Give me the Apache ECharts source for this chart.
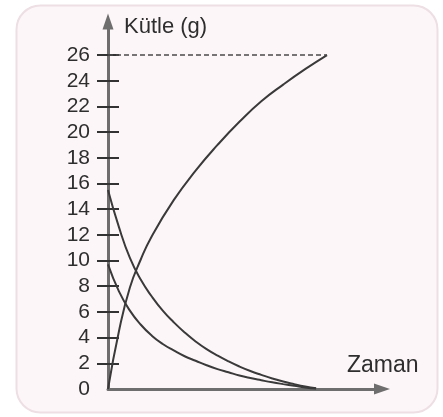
<!DOCTYPE html>
<html>
<head>
<meta charset="utf-8">
<script src="https://cdn.jsdelivr.net/npm/echarts@6/dist/echarts.min.js"></script>
<style>
  html, body { margin: 0; padding: 0; background: #ffffff; }
  #chart { width: 443px; height: 417px; }
</style>
</head>
<body>
<div id="chart"></div>
<script>
// Mass (g) of three substances over time
const timeRise = [0, 0.5, 1, 1.5, 2, 3, 4, 5, 6, 7, 8, 9, 10];
const massRise = [0, 4.5, 7.9, 10.1, 11.9, 14.7, 17.0, 19.0, 20.8, 22.4, 23.7, 24.9, 26];

const timeDecay = [0, 0.5, 1, 1.5, 2, 2.5, 3, 3.5, 4, 4.5, 5, 5.5, 6, 6.5, 7, 7.5, 8, 8.5, 9, 9.5];
const massDecayA = [15.5, 12.6, 10.2, 8.5, 7.2, 6.1, 5.2, 4.4, 3.7, 3.1, 2.6, 2.15, 1.75, 1.4, 1.1, 0.82, 0.58, 0.38, 0.2, 0.05];
const massDecayB = [9.7, 7.6, 6.1, 5.0, 4.15, 3.5, 3.0, 2.55, 2.2, 1.85, 1.55, 1.3, 1.05, 0.85, 0.68, 0.52, 0.38, 0.25, 0.12, 0.03];

const yTickValues = [2, 4, 6, 8, 10, 12, 14, 16, 18, 20, 22, 24, 26];
const yLabelValues = [0, 2, 4, 6, 8, 10, 12, 14, 16, 18, 20, 22, 24, 26];
const finalMass = 26;
const finalTime = 10;

const yName = 'Kütle (g)';
const xName = 'Zaman';

const pair = (xs, ys) => xs.map((x, i) => [x, ys[i]]);

const lineColor = '#3a3a3a';
const axisColor = '#6e6e6e';
const font = 'Liberation Sans, Arial, Helvetica, sans-serif';

const chart = echarts.init(document.getElementById('chart'), null, { renderer: 'canvas' });

const yMin = 0, yMax = 28.61, xMin = 0, xMax = 12.51;

const curve = (data) => ({
  type: 'line',
  data: data,
  smooth: 0.5,
  showSymbol: false,
  lineStyle: { color: lineColor, width: 2 }
});

chart.setOption({
  animation: false,
  backgroundColor: '#ffffff',
  graphic: [
    {
      type: 'rect',
      z: -10,
      silent: true,
      shape: { x: 16.5, y: 5.5, width: 421, height: 407, r: 24 },
      style: { fill: '#fdf6f8', stroke: '#eddfe4', lineWidth: 2 }
    },
    {
      type: 'text',
      left: 124, top: 16,
      style: { text: yName, font: '22px ' + font, fill: '#2e2e2e' }
    },
    {
      type: 'text',
      left: 347, top: 354,
      style: { text: xName, font: '23px ' + font, fill: '#2e2e2e' }
    }
  ],
  grid: { left: 108, right: 61, top: 21.5, bottom: 28, containLabel: false },
  xAxis: {
    type: 'value',
    min: xMin, max: xMax,
    axisLine: {
      show: true, onZero: true,
      lineStyle: { color: axisColor, width: 3 },
      symbol: ['none', 'triangle'],
      symbolSize: [11, 16]
    },
    axisTick: { show: false },
    axisLabel: { show: false },
    splitLine: { show: false }
  },
  yAxis: [
    {
      type: 'value',
      min: yMin, max: yMax,
      axisLine: {
        show: true, onZero: false,
        lineStyle: { color: axisColor, width: 3 },
        symbol: ['none', 'triangle'],
        symbolSize: [11, 16]
      },
      axisTick: {
        show: true, inside: false, length: 11,
        customValues: yTickValues,
        lineStyle: { color: '#333333', width: 2 }
      },
      axisLabel: {
        show: true, margin: 18,
        customValues: yLabelValues,
        color: '#2e2e2e',
        fontFamily: font,
        fontSize: 21
      },
      splitLine: { show: false }
    },
    {
      type: 'value',
      min: yMin, max: yMax,
      position: 'left',
      offset: 0,
      axisLine: { show: false, onZero: false },
      axisTick: {
        show: true, inside: true, length: 11,
        customValues: yTickValues,
        lineStyle: { color: '#333333', width: 2 }
      },
      axisLabel: { show: false },
      splitLine: { show: false }
    }
  ],
  series: [
    Object.assign(curve(pair(timeRise, massRise)), {
      markLine: {
        silent: true,
        symbol: ['none', 'none'],
        label: { show: false },
        lineStyle: { color: '#4a4a4a', width: 1.5, type: [5, 3] },
        data: [[{ coord: [0, finalMass] }, { coord: [finalTime, finalMass] }]]
      }
    }),
    curve(pair(timeDecay, massDecayA)),
    curve(pair(timeDecay, massDecayB))
  ]
});
</script>
</body>
</html>
